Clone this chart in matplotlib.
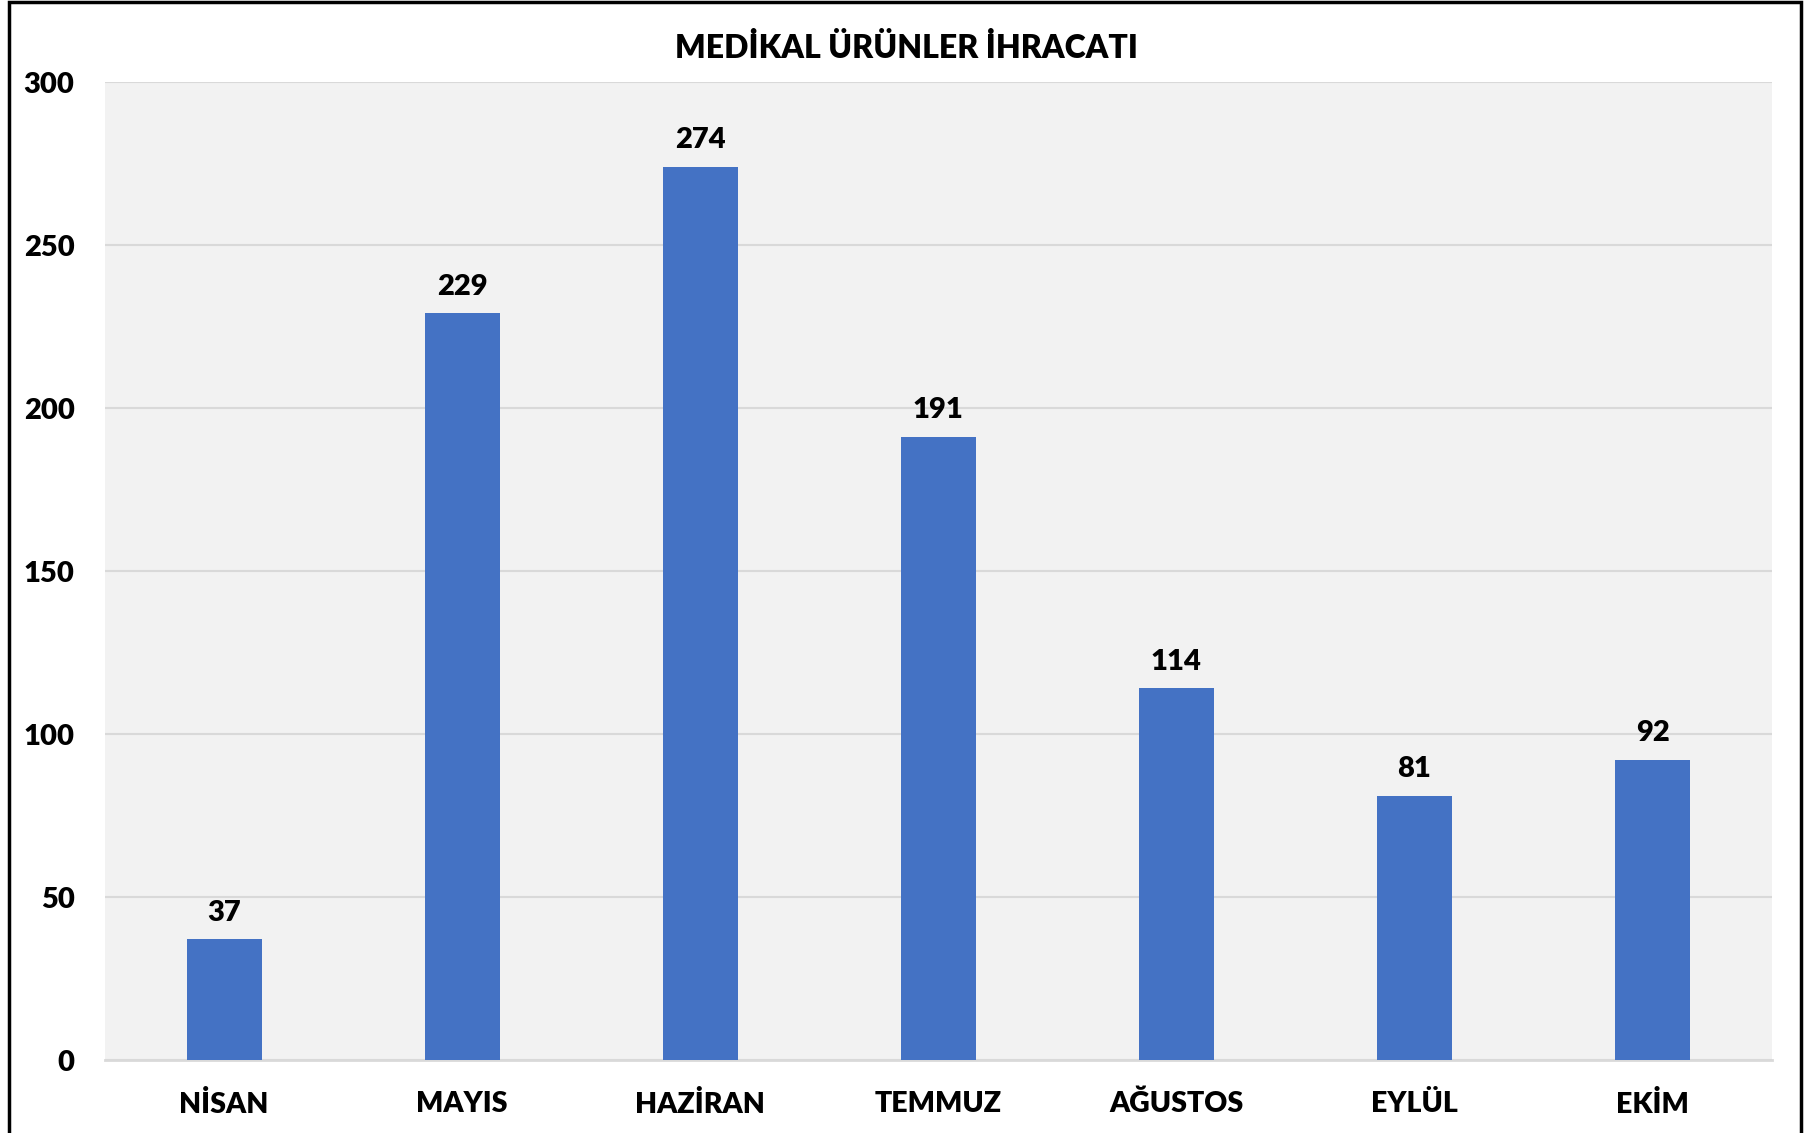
import matplotlib.pyplot as plt
from matplotlib.patches import Rectangle

months = ["NİSAN", "MAYIS", "HAZİRAN", "TEMMUZ", "AĞUSTOS", "EYLÜL", "EKİM"]
values = [37, 229, 274, 191, 114, 81, 92]
yticks = [0, 50, 100, 150, 200, 250, 300]

plt.rcParams['font.family'] = ['Lato', 'DejaVu Sans']
W = 'heavy'

fig = plt.figure(figsize=(18.12, 11.33), dpi=100)
ax = fig.add_axes([0.058, 0.0644, 0.9197, 0.8632])
ax.set_facecolor('#F2F2F2')

x = range(len(months))
bars = ax.bar(x, values, width=0.315, color='#4472C4', zorder=3)
for b, v in zip(bars, values):
    ax.annotate(str(v), (b.get_x() + b.get_width() / 2, v), xytext=(0, 10),
                textcoords='offset points', ha='center', va='bottom',
                fontsize=21, fontweight=W)

ax.set_xlim(-0.5, len(months) - 0.5)
ax.set_ylim(0, 300)
ax.set_yticks(yticks)
ax.set_yticklabels([str(t) for t in yticks], fontsize=21, fontweight=W)
ax.set_xticks(list(x))
ax.set_xticklabels(months, fontsize=20.5, fontweight=W)
ax.tick_params(axis='y', length=0, pad=22)
ax.tick_params(axis='x', length=0, pad=22)
ax.grid(axis='y', color='#D9D9D9', linewidth=1.5, zorder=0)
for s in ['left', 'right', 'top']:
    ax.spines[s].set_visible(False)
ax.spines['bottom'].set_color('#D9D9D9')
ax.spines['bottom'].set_linewidth(2)

fig.text(0.5, 0.958, "MEDİKAL ÜRÜNLER İHRACATI", ha='center', va='center',
         fontsize=23, fontweight=W)

# outer frame
fig.patches.append(Rectangle((9 / 1812, -0.05), (1801 - 9) / 1812, 1.05 - 2 / 1133,
                             transform=fig.transFigure, fill=False,
                             edgecolor='black', linewidth=2.5))

fig.savefig("out.png", dpi=100)
